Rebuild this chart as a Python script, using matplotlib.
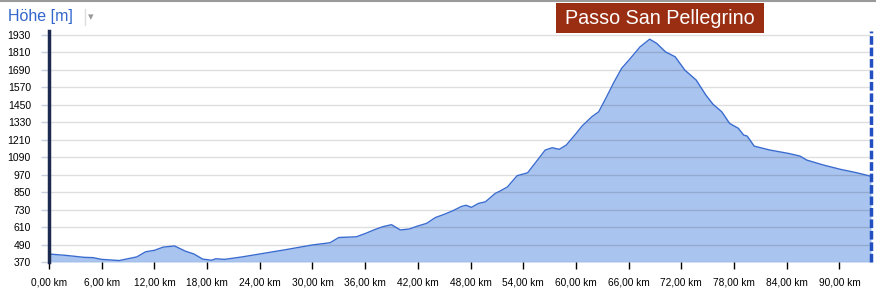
import matplotlib
matplotlib.use('Agg')
import matplotlib.pyplot as plt
from matplotlib.lines import Line2D
from matplotlib.patches import Rectangle

# elevation profile
km = [0, 2, 4, 5, 6, 8, 10, 11, 12, 13, 14.3, 15.5, 16.5, 17.5, 18.5, 19, 20,
      22, 24, 27, 30, 32, 33, 35, 36, 37, 38, 39, 40, 41, 42, 43, 44, 45, 46,
      47, 47.5, 48.1, 48.9, 49.7, 50.8, 51.4, 52.2, 53.3, 54.5, 55.5, 56.5,
      57.3, 58.1, 58.9, 60, 60.7, 61.8, 62.6, 63.5, 64.3, 65.2, 66.2, 67.3,
      68.4, 69.2, 70.2, 71.3, 72.4, 73.7, 74.8, 75.6, 76.6, 77.5, 78.5, 79.1,
      79.5, 80.3, 82.1, 84.2, 85.5, 86.3, 88.2, 90.1, 92.0, 93.6]
hoehe = [425, 415, 402, 400, 388, 380, 405, 440, 450, 472, 480, 445, 425, 390,
         382, 392, 388, 405, 425, 455, 487, 502, 538, 543, 565, 590, 612, 626,
         590, 596, 617, 635, 675, 697, 722, 752, 759, 745, 772, 783, 840, 858,
         885, 962, 982, 1060, 1138, 1154, 1143, 1172, 1250, 1303, 1366, 1401,
         1504, 1600, 1698, 1767, 1846, 1899, 1870, 1812, 1778, 1687, 1618, 1515,
         1453, 1401, 1321, 1287, 1241, 1234, 1165, 1138, 1115, 1097, 1069, 1035,
         1006, 982, 958]

y_ticks = list(range(370, 1931, 120))
x_ticks = list(range(0, 91, 6))
x_labels = ['%d,00 km' % v for v in x_ticks]

plt.rcParams['font.family'] = ['Liberation Sans', 'DejaVu Sans']

W, H = 876.0, 291.0
fig = plt.figure(figsize=(8.76, 2.91), dpi=100)
ax = fig.add_axes([49/W, 1-262/H, 822/W, 231/H])

ax.fill_between(km, hoehe, 370, color='#a9c4ef', lw=0, zorder=1)
ax.plot(km, hoehe, color='#3a6cd0', lw=1.0, zorder=3)

for v in y_ticks:
    ax.axhline(v, color='black', alpha=0.13, lw=1, zorder=2)

ax.set_xlim(0, 93.6)
ax.set_ylim(370, 1955)
ax.set_yticks(y_ticks)
ax.set_yticklabels([str(v) for v in y_ticks], fontsize=7.5)
ax.set_xticks(x_ticks)
ax.set_xticklabels(x_labels, fontsize=7.3)
ax.tick_params(axis='x', length=5, width=1, color='black', pad=6)
ax.tick_params(axis='y', length=6, width=1, color='#c8d0de', pad=7)
for s in ax.spines.values():
    s.set_visible(False)

# range markers at both ends
ax.axvline(0, color='#1b2a4e', lw=2.5, zorder=4, clip_on=False)
ax.axvline(93.6, color='#2350c0', lw=2.5, ls=(0, (2.5, 0.8)), zorder=4,
           clip_on=False)

fig.text(8/W, 1-17/H, 'Höhe [m]', color='#3366cc', fontsize=11.5,
         va='center', ha='left')
fig.add_artist(Line2D([85/W, 85/W], [1-9/H, 1-25/H], color='#dddddd', lw=1))
fig.text(91/W, 1-17/H, '\u25be', color='#999999', fontsize=8,
         va='center', ha='center', family='DejaVu Sans')
fig.add_artist(Line2D([0, 1], [0.998, 0.998], color='#9a9a9a', lw=1.5))

fig.add_artist(Rectangle((556/W, 1-33/H), 208/W, 30/H, fc='#992e12',
                         ec='none', transform=fig.transFigure))
fig.text(660/W, 1-18.5/H, 'Passo San Pellegrino', color='white',
         fontsize=14.2, ha='center', va='center')

fig.savefig('out.png', dpi=100)
